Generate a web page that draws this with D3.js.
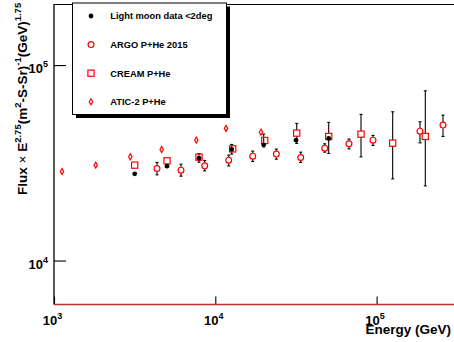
<!DOCTYPE html>
<html><head><meta charset="utf-8">
<script src="https://cdn.jsdelivr.net/npm/d3@7"></script>
<style>
html,body{margin:0;padding:0;background:#fff;}
svg{display:block;font-family:"Liberation Sans",Arial,Helvetica,sans-serif;}
</style></head>
<body><svg id="c" width="454" height="342"></svg>
<script>
// ---- data ----
const energyMoon = [3164, 5020, 7925, 12640, 19950, 31650, 50470];
const fluxMoon   = [27760, 30390, 33410, 37010, 39070, 41300, 42150];
const moonErrLo  = [null, null, 31870, 35030, 38160, null, null];
const moonErrHi  = [null, null, 35230, 39260, 44330, null, null];

const energyArgo = [4351, 6128, 8598, 12110, 17060, 23890, 33850, 47680, 67440, 95000, 185800, 258000];
const fluxArgo   = [29590, 29000, 30500, 32630, 34200, 35030, 33690, 37580, 39540, 41300, 45930, 49310];
const argoErrLo  = [27440, 27020, 28760, 30500, 32130, 33010, 31760, 35850, 37270, 38800, 40010, 43140];
const argoErrHi  = [31760, 31120, 32510, 34610, 36280, 37150, 35850, 39540, 41800, 43650, 51260, 55460];

const energyCream = [3164, 5020, 7925, 12820, 20250, 31960, 50470, 80050, 125800, 200400];
const fluxCream   = [30760, 32360, 33810, 37270, 41150, 44850, 43140, 44330, 39860, 43140];
const creamErrLo  = [null, null, null, null, null, 39720, 35310, 33930, 26170, 24100];
const creamErrHi  = [null, null, null, null, null, 50300, 50900, 55920, 57680, 73850];

const energyAtic = [1121, 1814, 2972, 4652, 7623, 11650, 19200];
const fluxAtic   = [28560, 30760, 33930, 37010, 41300, 47420, 45390];

const legendLabels = ["Light moon data <2deg", "ARGO P+He 2015", "CREAM P+He", "ATIC-2 P+He"];
const xMajorTicks = [1e3, 1e4, 1e5];
const xMajorExp = ["3", "4", "5"];
const xMinorTicks = [2e3,3e3,4e3,5e3,6e3,7e3,8e3,9e3,2e4,3e4,4e4,5e4,6e4,7e4,8e4,9e4,2e5,3e5];
const yMajorTicks = [1e4, 1e5];
const yMajorExp = ["4", "5"];
const yMinorTicks = [6e3,7e3,8e3,9e3,2e4,3e4,4e4,5e4,6e4,7e4,8e4,9e4,2e5];

// ---- layout ----
const svg = d3.select("#c");
const plotLeft = 54, plotBottom = 304.5, plotTop = 4.5;
const x = d3.scaleLog().domain([1e3, Math.pow(10, 5.6)]).range([plotLeft, plotLeft + 2.6 * 161.3]);
const y = d3.scaleLog().domain([Math.pow(10, 3.775), Math.pow(10, 5.31)]).range([plotBottom, plotTop]);
const RED = "#ff0000";

// frame top line
svg.append("line").attr("x1", plotLeft).attr("x2", 460).attr("y1", plotTop).attr("y2", plotTop)
  .attr("stroke", "#000").attr("stroke-width", 1.2);

// y axis (ticks inside)
const gy = svg.append("g").attr("transform", `translate(${plotLeft},0)`);
gy.call(d3.axisLeft(y).tickValues(yMinorTicks).tickSize(-6).tickFormat(""));
gy.call(d3.axisLeft(y).tickValues(yMajorTicks).tickSize(-12).tickPadding(7).tickFormat(""));
gy.selectAll(".domain").remove();
gy.selectAll("line").attr("stroke", "#000").attr("stroke-width", 1.1);
svg.append("line").attr("x1", plotLeft).attr("x2", plotLeft).attr("y1", plotTop - 0.5).attr("y2", plotBottom)
  .attr("stroke", "#000").attr("stroke-width", 1.3);
yMajorTicks.forEach((v, i) => {
  const t = svg.append("text").attr("x", plotLeft - 6).attr("y", y(v) + 8)
    .attr("text-anchor", "end").attr("font-weight", "bold").attr("font-size", 13);
  t.append("tspan").text("10");
  t.append("tspan").attr("font-size", 9).attr("dy", -6).text(yMajorExp[i]);
});

// x axis (ticks inside)
const gx = svg.append("g").attr("transform", `translate(0,${plotBottom})`);
gx.call(d3.axisBottom(x).tickValues(xMinorTicks).tickSize(-3.5).tickFormat(""));
gx.call(d3.axisBottom(x).tickValues(xMajorTicks).tickSize(-8).tickFormat(""));
gx.selectAll(".domain").remove();
gx.selectAll("line").attr("stroke", "#000").attr("stroke-width", 1.1);
svg.append("line").attr("x1", plotLeft).attr("x2", 460).attr("y1", plotBottom).attr("y2", plotBottom)
  .attr("stroke", "#c03030").attr("stroke-width", 1.5);
xMajorTicks.forEach((v, i) => {
  const t = svg.append("text").attr("x", x(v) - 1.5).attr("y", 325)
    .attr("text-anchor", "middle").attr("font-weight", "bold").attr("font-size", 13);
  t.append("tspan").text("10");
  t.append("tspan").attr("font-size", 9).attr("dy", -6).text(xMajorExp[i]);
});

// axis titles
svg.append("text").attr("x", 365.5).attr("y", 334).attr("font-weight", "bold")
  .attr("font-size", 13.5).text("Energy (GeV)");
const yt = svg.append("text").attr("transform", "translate(27,195) rotate(-90)")
  .attr("font-weight", "bold").attr("font-size", 13.5);
yt.append("tspan").text("Flux ");
yt.append("tspan").attr("font-weight", "normal").text("×");
yt.append("tspan").text(" E");
yt.append("tspan").attr("font-size", 9.5).attr("dy", -6).text("2.75");
yt.append("tspan").attr("dy", 6).text("(m");
yt.append("tspan").attr("font-size", 9.5).attr("dy", -6).text("2");
yt.append("tspan").attr("dy", 6).text("-S-Sr)");
yt.append("tspan").attr("font-size", 9.5).attr("dy", -6).text("-1");
yt.append("tspan").attr("dy", 6).text("(GeV)");
yt.append("tspan").attr("font-size", 9.5).attr("dy", -6).text("1.75");

// ---- error bars ----
function errBars(E, F, lo, hi, r) {
  const g = svg.append("g").attr("stroke", "#000").attr("stroke-width", 1.1);
  E.forEach((e, i) => {
    if (lo[i] == null) return;
    const cx = x(e), cy = y(F[i]), yl = y(lo[i]), yh = y(hi[i]);
    if (cy - r > yh) g.append("line").attr("x1", cx).attr("x2", cx).attr("y1", yh).attr("y2", cy - r);
    if (yl > cy + r) g.append("line").attr("x1", cx).attr("x2", cx).attr("y1", cy + r).attr("y2", yl);
    g.append("line").attr("x1", cx - 1.5).attr("x2", cx + 1.5).attr("y1", yh).attr("y2", yh);
    g.append("line").attr("x1", cx - 1.5).attr("x2", cx + 1.5).attr("y1", yl).attr("y2", yl);
  });
}
errBars(energyArgo, fluxArgo, argoErrLo, argoErrHi, 3.2);
errBars(energyCream, fluxCream, creamErrLo, creamErrHi, 3.2);
errBars(energyMoon, fluxMoon, moonErrLo, moonErrHi, 2.4);

// ---- markers ----
function diamond(g, cx, cy) {
  g.append("path").attr("d", `M${cx},${cy-3}L${cx+1.7},${cy}L${cx},${cy+3}L${cx-1.7},${cy}Z`)
    .attr("fill", "none").attr("stroke", RED).attr("stroke-width", 1.2);
}
function circ(g, cx, cy) {
  g.append("circle").attr("cx", cx).attr("cy", cy).attr("r", 2.9)
    .attr("fill", "none").attr("stroke", RED).attr("stroke-width", 1.2);
}
function square(g, cx, cy) {
  g.append("rect").attr("x", cx - 3.1).attr("y", cy - 3.1).attr("width", 6.2).attr("height", 6.2)
    .attr("fill", "none").attr("stroke", RED).attr("stroke-width", 1.2);
}
function dot(g, cx, cy) {
  g.append("circle").attr("cx", cx).attr("cy", cy).attr("r", 2.4).attr("fill", "#000");
}
const gm = svg.append("g");
energyAtic.forEach((e, i) => diamond(gm, x(e), y(fluxAtic[i])));
energyArgo.forEach((e, i) => circ(gm, x(e), y(fluxArgo[i])));
energyCream.forEach((e, i) => square(gm, x(e), y(fluxCream[i])));
energyMoon.forEach((e, i) => dot(gm, x(e), y(fluxMoon[i])));

// ---- legend ----
const L = {x: 72.5, y: 3, w: 154, h: 111.5};
svg.append("rect").attr("x", L.x + 3.5).attr("y", L.y + 3.5).attr("width", L.w).attr("height", L.h).attr("fill", "#000");
svg.append("rect").attr("x", L.x).attr("y", L.y).attr("width", L.w).attr("height", L.h)
  .attr("fill", "#fff").attr("stroke", "#000").attr("stroke-width", 1);
const markerFns = [dot, circ, square, diamond];
legendLabels.forEach((lab, i) => {
  const cy = 16 + i * 28.6;
  markerFns[i](svg, 91, cy);
  svg.append("text").attr("x", 110.3).attr("y", cy + 3.3).attr("font-weight", "bold")
    .attr("font-size", 9.3).text(lab);
});
</script></body></html>
